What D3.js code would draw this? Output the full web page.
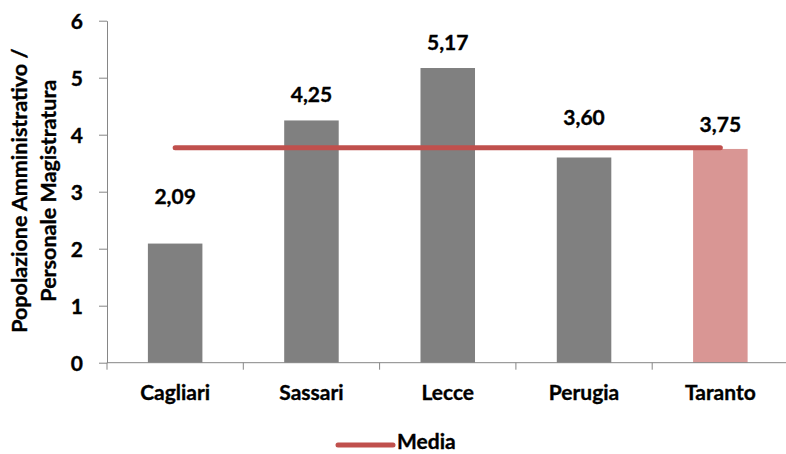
<!DOCTYPE html>
<html><head><meta charset="utf-8">
<script src="https://cdn.jsdelivr.net/npm/d3@7"></script>
<style>
html,body{margin:0;padding:0;background:#fff;}
text{font-family:Lato,"Open Sans",sans-serif;font-weight:bold;fill:#000;stroke:#000;stroke-width:0.35px;}
</style></head>
<body>
<svg id="chart" width="786" height="454"></svg>
<script>
const categories = ["Cagliari", "Sassari", "Lecce", "Perugia", "Taranto"];
const values = [2.09, 4.25, 5.17, 3.60, 3.75];
const highlight = [false, false, false, false, true];
const mediaValue = 3.77;
const yTicks = [0, 1, 2, 3, 4, 5, 6];
const yTitle = ["Popolazione Amministrativo /", "Personale Magistratura"];
const legendLabel = "Media";
// layout: vertical lift of each value label above its bar (px), as placed in the reference
const labelLift = [40, 18, 18, 33, 17];

(function(){
const svg = d3.select("#chart");
const pLeft = 107, pRight = 788.5, pTop = 20.7, pBottom = 362.7;
const fontSize = 21;

const x = d3.scaleBand().domain(categories).range([pLeft, pRight]).paddingInner(0).paddingOuter(0);
const y = d3.scaleLinear().domain([0, 6]).range([pBottom, pTop]);
const fmt = v => d3.format(".2f")(v).replace(".", ",");
const axisColor = "#868686";

// bars
const barW = x.bandwidth() * 0.4;
svg.append("g").selectAll("rect").data(categories).join("rect")
  .attr("x", d => x(d) + x.bandwidth()/2 - barW/2)
  .attr("y", (d,i) => y(values[i]))
  .attr("width", barW)
  .attr("height", (d,i) => y(0) - y(values[i]))
  .attr("fill", (d,i) => highlight[i] ? "#D99694" : "#808080");

// y axis
const yAxis = d3.axisLeft(y).tickValues(yTicks).tickSize(8).tickPadding(16).tickSizeOuter(0).tickFormat(d3.format("d"));
const gy = svg.append("g").attr("transform", `translate(${pLeft},0)`).call(yAxis);
gy.attr("font-family", null).attr("font-size", null);
gy.select(".domain").attr("stroke", axisColor);
gy.selectAll(".tick line").attr("stroke", axisColor);
gy.selectAll(".tick text").style("font-size", fontSize + "px").attr("fill", "#000").attr("dy", "0.36em");

// x axis
const gx = svg.append("g").attr("transform", `translate(0,${pBottom})`);
gx.append("line").attr("x1", pLeft).attr("x2", pRight).attr("y1", 0).attr("y2", 0).attr("stroke", axisColor);
const boundaries = categories.map(c => x(c)).concat([pRight]);
gx.selectAll("line.tk").data(boundaries).join("line").attr("class", "tk")
  .attr("x1", d => d).attr("x2", d => d).attr("y1", 0).attr("y2", 7).attr("stroke", axisColor);
gx.selectAll("text").data(categories).join("text")
  .attr("x", d => x(d) + x.bandwidth()/2).attr("y", 37.5)
  .attr("text-anchor", "middle").style("font-size", fontSize + "px").text(d => d);

// media line
const first = categories[0], last = categories[categories.length-1];
svg.append("line")
  .attr("x1", x(first) + x.bandwidth()/2).attr("x2", x(last) + x.bandwidth()/2)
  .attr("y1", y(mediaValue)).attr("y2", y(mediaValue))
  .attr("stroke", "#C0504D").attr("stroke-width", 5).attr("stroke-linecap", "round");

// value labels
svg.append("g").selectAll("text").data(categories).join("text")
  .attr("x", d => x(d) + x.bandwidth()/2)
  .attr("y", (d,i) => y(values[i]) - labelLift[i])
  .attr("text-anchor", "middle").style("font-size", fontSize + "px")
  .text((d,i) => fmt(values[i]));

// y title
const t = svg.append("text").attr("transform", `translate(27,${(pTop+pBottom)/2 - 1}) rotate(-90)`)
  .attr("text-anchor", "middle").style("font-size", "21.5px");
t.selectAll("tspan").data(yTitle).join("tspan")
  .attr("x", 0).attr("dy", (d,i) => i === 0 ? 0 : 29).text(d => d);

// legend
const lg = svg.append("g");
lg.append("line").attr("x1", 338).attr("x2", 393).attr("y1", 445).attr("y2", 445)
  .attr("stroke", "#C0504D").attr("stroke-width", 5).attr("stroke-linecap", "round");
lg.append("text").attr("x", 397).attr("y", 449).style("font-size", fontSize + "px").text(legendLabel);
})();
</script>
</body></html>
